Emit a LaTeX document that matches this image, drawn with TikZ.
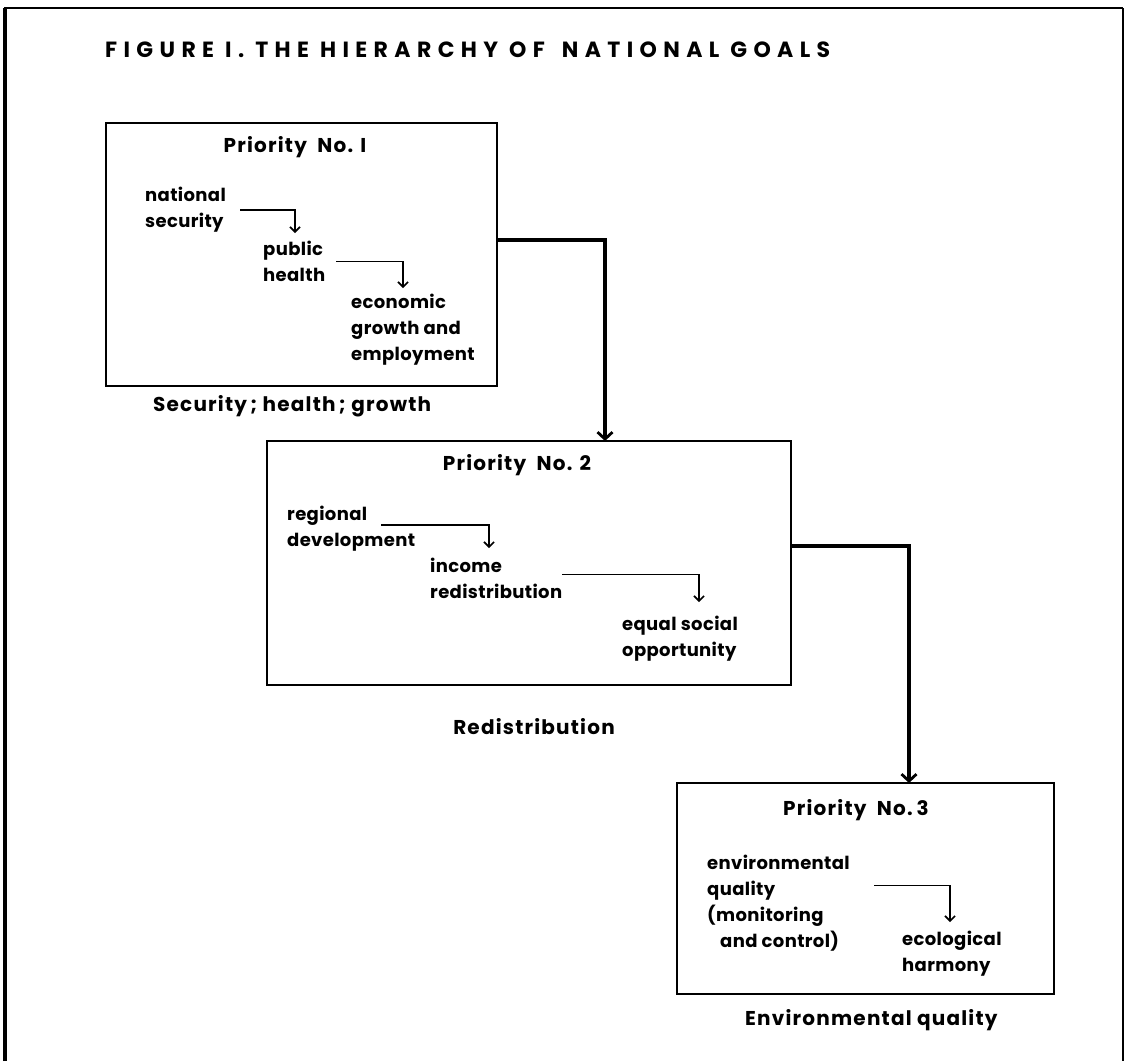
\documentclass[tikz,border=0pt]{standalone}
\usepackage{fontspec}
\setmainfont{Poppins}
\newfontfamily\titlefont[LetterSpace=29]{Poppins}
\newfontfamily\capfont[LetterSpace=6]{Poppins}
\newfontfamily\bodyfont[LetterSpace=2]{Poppins}
\usetikzlibrary{arrows.meta}
\begin{document}
\begin{tikzpicture}[x=1pt,y=-1pt,
  box/.style={draw, line width=2.7pt, inner sep=0pt, outer sep=0pt},
  item/.style={inner sep=0pt, anchor=north west, align=left, font=\bodyfont\bfseries\fontsize{18}{26}\selectfont},
  head/.style={inner sep=0pt, anchor=base, font=\capfont\bfseries\fontsize{20}{24}\selectfont},
  link/.style={line width=3.2pt, -{Straight Barb[length=7pt,width=15pt,line width=2.8pt]}},
  flow/.style={line width=1.6pt, -{Straight Barb[length=5pt,width=10pt,line width=1.6pt]}}]
\useasboundingbox (0,0) rectangle (1126,1061);
% outer frame (open at the bottom)
\draw[line width=3.2pt] (5,1061) -- (5,8);
\draw[line width=2.4pt] (4,8) -- (1123,8);
\draw[line width=1.8pt] (1123,8) -- (1123,1061);
% title
\node[anchor=base west, inner sep=0pt, font=\titlefont\bfseries\fontsize{22}{24}\selectfont] (title) at (105,57) {FIGURE I. THE HIERARCHY OF\hspace{6pt} NATIONAL GOALS};
% boxes
\node[box, minimum width=391pt, minimum height=263pt] (b1) at (301.5,254.5) {};
\node[box, minimum width=524pt, minimum height=244pt] (b2) at (529,563) {};
\node[box, minimum width=377pt, minimum height=211pt] (b3) at (865.5,888.5) {};
% headings
\node[head] (h1) at (295,152) {Priority\hspace{5pt} No. I};
\node[head] (h2) at (517,470) {Priority\hspace{5pt} No. 2};
\node[head] (h3) at (856,815) {Priority\hspace{5pt} No.\hspace{4pt}3};
% captions
\node[head, anchor=base west] (c1) at (153,411) {Security\,; health\,; growth};
\node[head] (c2) at (534,734) {Redistribution};
\node[head, anchor=base west] (c3) at (745,1025) {Environmental quality};
% items
\node[item] (nat) at (145,187) {national\\security};
\node[item] (pub) at (263,241) {public\\health};
\node[item] (eco) at (351,294) {economic\\growth and\\employment};
\node[item] (reg) at (287,506) {regional\\development};
\node[item] (inc) at (430,558) {income\\redistribution};
\node[item] (equ) at (622,616) {equal social\\opportunity};
\node[item] (env) at (707,855) {environmental\\quality\\(monitoring\\\hspace*{13pt}and control)};
\node[item] (ecol) at (902,931) {ecological\\harmony};
% inner flows
\draw[flow] ([xshift=95pt]nat.west) -| ([xshift=32pt,yshift=8pt]pub.north west);
\draw[flow] ([xshift=73pt]pub.west) -| ([xshift=52pt,yshift=6pt]eco.north west);
\draw[flow] ([xshift=94pt,yshift=4pt]reg.west) -| ([xshift=59pt,yshift=10pt]inc.north west);
\draw[flow] ([xshift=132pt,yshift=4pt]inc.west) -| ([xshift=77pt,yshift=14pt]equ.north west);
\draw[flow] ([xshift=167pt,yshift=18pt]env.west) -| ([xshift=48pt,yshift=9pt]ecol.north west);
% connectors between priorities
\draw[link] ([yshift=14.5pt]b1.east) -| ([xshift=76pt]b2.north);
\draw[link] ([yshift=17pt]b2.east) -| ([xshift=43.5pt]b3.north);
\end{tikzpicture}
\end{document}
